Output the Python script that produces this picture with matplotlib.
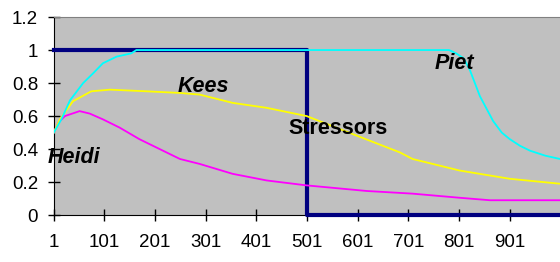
import matplotlib.pyplot as plt

plt.rcParams['font.family'] = ['Liberation Sans', 'DejaVu Sans']

# Stressors (step function)
stress_x = [1, 501, 1000]
stress_y = [1, 0, 0]

# Piet (cyan)
piet_x = [1, 16, 33, 59, 79, 98, 125, 154, 164, 781, 795, 810, 822, 842, 868, 885, 901, 921, 941, 971, 1000]
piet_y = [0.5, 0.58, 0.695, 0.80, 0.86, 0.92, 0.96, 0.98, 1.0, 1.0, 0.98, 0.95, 0.88, 0.72, 0.57, 0.5, 0.46, 0.42, 0.39, 0.36, 0.34]

# Kees (yellow)
kees_x = [1, 13, 39, 75, 112, 184, 250, 289, 354, 421, 500, 600, 684, 709, 802, 901, 1000]
kees_y = [0.5, 0.58, 0.69, 0.75, 0.76, 0.75, 0.74, 0.73, 0.68, 0.65, 0.6, 0.48, 0.38, 0.34, 0.27, 0.22, 0.19]

# Heidi (magenta)
heidi_x = [1, 10, 23, 52, 72, 98, 131, 170, 210, 250, 289, 354, 421, 500, 619, 709, 802, 862, 1000]
heidi_y = [0.5, 0.56, 0.60, 0.63, 0.615, 0.58, 0.53, 0.46, 0.4, 0.34, 0.31, 0.25, 0.21, 0.18, 0.146, 0.13, 0.105, 0.09, 0.09]

xticks = [1, 101, 201, 301, 401, 501, 601, 701, 801, 901]
yticks = [0, 0.2, 0.4, 0.6, 0.8, 1, 1.2]
ylabels = ['0', '0.2', '0.4', '0.6', '0.8', '1', '1.2']

fig = plt.figure(figsize=(5.6, 2.62), dpi=100)
ax = fig.add_axes([0.096, 0.179, 0.904, 0.756])
ax.set_facecolor('#C0C0C0')

ax.plot(stress_x, stress_y, drawstyle='steps-post', color='#000080', lw=3, clip_on=False, zorder=3)
ax.plot(heidi_x, heidi_y, color='#FF00FF', lw=1.3, zorder=4)
ax.plot(kees_x, kees_y, color='#FFFF00', lw=1.3, zorder=4)
ax.plot(piet_x, piet_y, color='#00FFFF', lw=1.3, zorder=5)

ax.set_xlim(1, 1000)
ax.set_ylim(0, 1.2)
ax.set_xticks(xticks)
ax.set_yticks(yticks)
ax.set_yticklabels(ylabels)
ax.tick_params(direction='inout', length=8.6, width=1, labelsize=13.5)
ax.tick_params(axis='x', pad=9)
ax.tick_params(axis='y', pad=7)

ax.spines['top'].set_color('#808080')
ax.spines['right'].set_visible(False)
ax.spines['left'].set_color('black')
ax.spines['bottom'].set_color('black')

lab = dict(fontsize=15.5, fontweight='bold', color='black', zorder=6)
ax.text(-11, 0.348, 'Heidi', style='italic', ha='left', va='center', clip_on=False, **lab)
ax.text(246, 0.78, 'Kees', style='italic', ha='left', va='center', **lab)
ax.text(752, 0.92, 'Piet', style='italic', ha='left', va='center', **lab)
ax.text(465, 0.524, 'Stressors', ha='left', va='center', **lab)

fig.savefig('out.png', dpi=100)
